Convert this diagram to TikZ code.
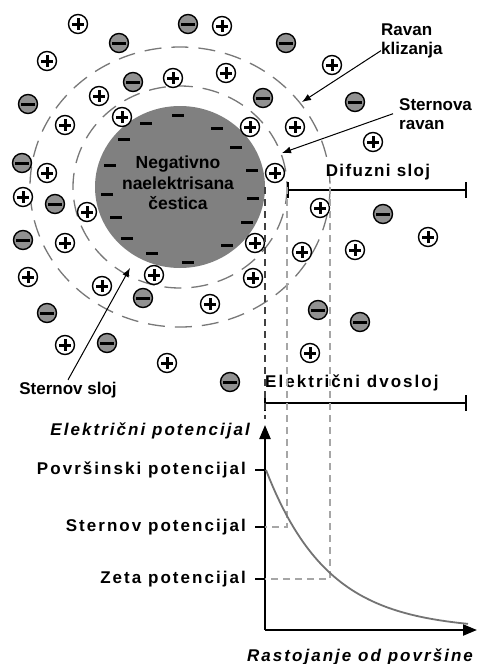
\documentclass[tikz,border=0pt]{standalone}
\usepackage{fontspec}
\setmainfont{Liberation Sans}
\newfontfamily\widefont[LetterSpace=8]{Liberation Sans}
\newfontfamily\widerfont[LetterSpace=12]{Liberation Sans}
\usetikzlibrary{arrows.meta}

\definecolor{partgray}{RGB}{128,128,128}
\definecolor{iongray}{RGB}{145,145,145}
\definecolor{ringgray}{RGB}{120,120,120}

\tikzset{
  lbl/.style={font=\fontsize{17}{19}\selectfont\bfseries, inner sep=0pt, align=left},
  axlbl/.style={font=\fontsize{17}{19}\selectfont\widerfont\bfseries, inner sep=0pt},
  axtitle/.style={font=\fontsize{17}{19}\selectfont\widerfont\bfseries\itshape, inner sep=0pt},
  posion/.style={circle, draw, line width=1.4pt, fill=white, minimum size=19pt, inner sep=0pt},
  negion/.style={circle, draw, line width=1.4pt, fill=iongray, minimum size=19pt, inner sep=0pt},
  sign/.style={line width=3pt},
  ring/.style={ringgray, line width=1.3pt, dash pattern=on 17pt off 10pt},
  guide/.style={gray!70, line width=1.6pt, dash pattern=on 7pt off 5pt},
  pointer/.style={line width=1pt, -{Latex[length=9pt,width=7pt]}},
  bar/.style={line width=2.6pt},
  axis/.style={line width=2.3pt, -{Triangle[length=14pt,width=11pt]}}
}

\begin{document}
\begin{tikzpicture}[x=1pt, y=-1pt]
  \useasboundingbox (0,0) rectangle (477,664);

  % Particle with its surface charge
  \fill[partgray] (180,187) ellipse [x radius=85, y radius=81];
  \foreach \x/\y in {178/115, 217/128, 146/123, 124/139, 236/147, 110/165, 252/170,
      107/194, 253/198, 116/217, 247/222, 127/238, 227/245, 152/253, 188/262}
    \draw[line width=3pt] (\x-6,\y) -- (\x+6,\y);
  \node[lbl, font=\fontsize{17.5}{20.5}\selectfont\bfseries, align=center] (part) at (178,183)
    {Negativno\\naelektrisana\\čestica};

  % Stern plane and slipping plane
  \draw[ring] (180,187) ellipse [x radius=107, y radius=101];
  \draw[ring] (180,187) ellipse [x radius=150, y radius=140];

  % Counter-ions
  \foreach \x/\y [count=\i] in {78/24, 222/26, 47/61, 173/78, 226/73, 99/96, 122/117,
      65/125, 47/173, 23/197, 87/212, 65/243, 28/277, 102/286, 154/275, 210/304,
      65/345, 167/363, 332/65, 250/127, 295/127, 373/142, 275/173, 320/208,
      428/237, 255/243, 302/252, 355/250, 253/278, 310/353} {
    \node[posion] (p\i) at (\x,\y) {};
    \draw[sign] (\x-6,\y) -- (\x+6,\y) (\x,\y-6) -- (\x,\y+6);
  }
  \foreach \x/\y [count=\i] in {188/24, 119/43, 133/82, 28/104, 22/163, 55/204,
      23/240, 143/298, 47/313, 107/343, 230/382, 286/43, 263/98, 355/102,
      383/214, 318/310, 360/322} {
    \node[negion] (n\i) at (\x,\y) {};
    \draw[sign] (\x-7,\y) -- (\x+7,\y);
  }

  % Labels with pointers
  \coordinate (slip) at (302,102);
  \coordinate (stern) at (282,153);
  \coordinate (layer) at (130,268);
  \node[lbl, anchor=north west] (rk) at (381,24) {Ravan\\klizanja};
  \node[lbl, anchor=north west] (sr) at (399,98) {Sternova\\ravan};
  \node[lbl] (ss) at (68,390) {Sternov sloj};
  \draw[pointer] ([yshift=8pt]rk.south west) -- (slip);
  \draw[pointer] ([xshift=-6pt]sr.west) -- (stern);
  \draw[pointer] ([yshift=2pt]ss.north) -- (layer);

  % Layer widths
  \coordinate (d1) at (288,190);
  \coordinate (d2) at (466,190);
  \coordinate (e1) at (265,403);
  \coordinate (e2) at (466,403);
  \draw[bar] (d1) -- (d2) ([yshift=8pt]d1) -- ([yshift=-8pt]d1) ([yshift=8pt]d2) -- ([yshift=-8pt]d2);
  \draw[bar] (e1) -- (e2) ([yshift=8pt]e1) -- ([yshift=-8pt]e1) ([yshift=8pt]e2) -- ([yshift=-8pt]e2);
  \node[axlbl, font=\fontsize{17}{19}\selectfont\widefont\bfseries] (dif) at (378,172) {Difuzni sloj};
  \node[axlbl, anchor=west] (dvo) at (265,383) {Električni dvosloj};

  % Axes
  \coordinate (o) at (265,630);
  \coordinate (ytop) at (265,425);
  \coordinate (xend) at (477,630);
  \coordinate (ps) at (265,470);
  \coordinate (st) at (265,527);
  \coordinate (ze) at (265,579);
  \draw[axis] (o) -- (ytop);
  \draw[axis] (o) -- (xend);
  \foreach \c in {ps, st, ze}
    \draw[line width=2.6pt] (\c) -- ++(-10,0);
  \node[axtitle, anchor=east] (yl) at (250,431) {Električni potencijal};
  \node[axtitle] (xl) at (360,657) {Rastojanje od površine};
  \node[axlbl, anchor=east] (psl) at (246,470) {Površinski potencijal};
  \node[axlbl, anchor=east] (stl) at (246,527) {Sternov potencijal};
  \node[axlbl, anchor=east] (zel) at (246,579) {Zeta potencijal};

  % Guide lines from the planes down to the curve
  \coordinate (s0) at (265,187);
  \coordinate (s1) at (287,187);
  \coordinate (s2) at (330,187);
  \coordinate (c1) at (287,527);
  \coordinate (c2) at (330,579);
  \draw[guide, black!75] (s0) -- ([yshift=6pt]ytop);
  \draw[guide] (s1) -- (c1) -- (st);
  \draw[guide] (s2) -- (c2) -- (ze);

  % Potential decay
  \draw[gray!90!black, line width=1.8pt, domain=266:468, samples=60]
    plot (\x, {630-160*exp(-(\x-266)/62)});
\end{tikzpicture}
\end{document}
